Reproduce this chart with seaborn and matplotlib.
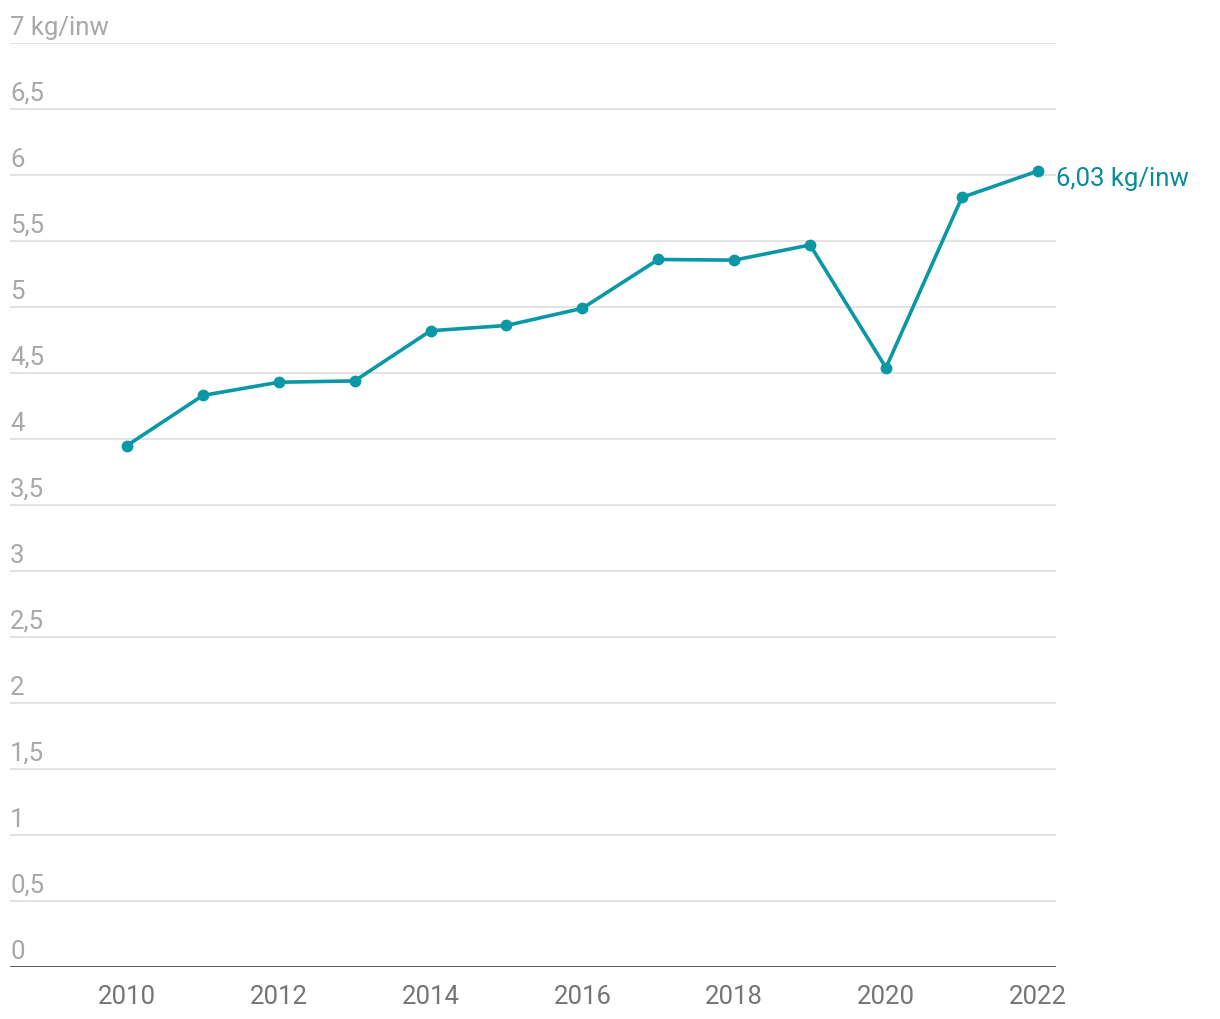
import pandas as pd
import numpy as np
import matplotlib.pyplot as plt
import seaborn as sns

# Data
years = [2010, 2011, 2012, 2013, 2014, 2015, 2016, 2017, 2018, 2019, 2020, 2021, 2022]
values = [3.95, 4.33, 4.43, 4.44, 4.82, 4.86, 4.99, 5.36, 5.355, 5.47, 4.54, 5.83, 6.03]
y_ticks = [0, 0.5, 1, 1.5, 2, 2.5, 3, 3.5, 4, 4.5, 5, 5.5, 6, 6.5, 7]
y_labels = ['0', '0,5', '1', '1,5', '2', '2,5', '3', '3,5', '4', '4,5', '5', '5,5', '6', '6,5', '7 kg/inw']
x_ticks = [2010, 2012, 2014, 2016, 2018, 2020, 2022]
end_label = '6,03 kg/inw'

df = pd.DataFrame({'year': years, 'value': values})

sns.set_style('white')
plt.rcParams['font.family'] = ['Roboto', 'DejaVu Sans']

line_color = '#0a98a6'
text_color = '#078c98'
grey = '#a8a8a8'

fig = plt.figure(figsize=(12.2, 10.2), dpi=100)
ax = fig.add_axes([10 / 1220, 52 / 1020, 1046 / 1220, 924 / 1020])

# Gridlines
for t in y_ticks[1:]:
    ax.axhline(t, color='#e3e3e3', linewidth=1.4, zorder=0)
ax.axhline(0, color='#2a2a2a', linewidth=1.8, zorder=3)

# Draw line
sns.lineplot(data=df, x='year', y='value', ax=ax, color=line_color,
             linewidth=2.6, marker='o', markersize=8.5,
             markeredgewidth=0, zorder=4)

ax.set_xlim(2008.46, 2022.24)
ax.set_ylim(0, 7)

# Y labels above gridlines
ax.set_yticks([])
for t, lab in zip(y_ticks, y_labels):
    ax.annotate(lab, xy=(0, t), xycoords=('axes fraction', 'data'),
                xytext=(0, 3), textcoords='offset points',
                ha='left', va='bottom', fontsize=18.5, color=grey)

ax.set_xticks(x_ticks)
ax.set_xticklabels([str(x) for x in x_ticks], fontsize=18.5, color='#757575')
ax.tick_params(axis='x', length=0, pad=12.5)
ax.set_xlabel('')
ax.set_ylabel('')

for s in ax.spines.values():
    s.set_visible(False)

# End label
ax.annotate(end_label, xy=(years[-1], values[-1]), xytext=(13, -5),
            textcoords='offset points', ha='left', va='center',
            fontsize=18.5, color=text_color, annotation_clip=False)

fig.savefig('out.png', dpi=100)
